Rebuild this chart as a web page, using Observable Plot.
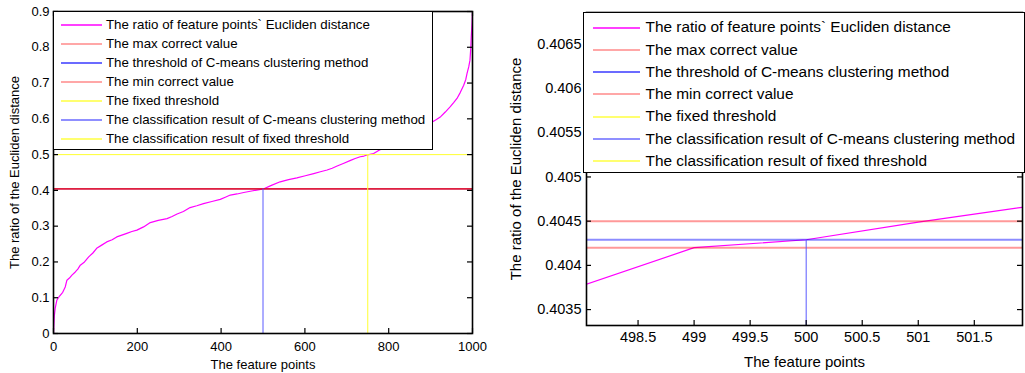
<!DOCTYPE html>
<html>
<head>
<meta charset="utf-8">
<script src="https://cdn.jsdelivr.net/npm/d3@7"></script>
<script src="https://cdn.jsdelivr.net/npm/@observablehq/plot@0.6"></script>
<style>
  body { margin: 0; background: #fff; font-family: "Liberation Sans", Arial, sans-serif; }
  #wrap { position: relative; width: 1025px; height: 373px; overflow: hidden; background: #fff; }
  .panel { position: absolute; top: 0; }
  .legend { position: absolute; background: #fff; border: 1.5px solid #000; box-sizing: border-box; }
  .legend .row { position: absolute; left: 0; white-space: nowrap; color: #000; }
  .legend svg { position: absolute; }
</style>
</head>
<body>
<div id="wrap"></div>
<script>
// ---- data ----
const featureIndex = [0,2,4,8,14,22,28,32,38,44,52,58,64,74,84,94,103,115,127,140,151,163,175,187,199,215,231,250,271,283,295,310,326,342,358,378,398,410,422,438,454,476,498,499,500,501,502,520,541,561,581,601,621,637,653,665,677,693,709,720,732,741,750,764,780,800,820,840,860,880,904,914,924,935,947,955,963,971,979,984,987,991,994,996,997,999,1000];
const ratioValues = [0,0.05,0.07,0.093,0.104,0.115,0.13,0.149,0.155,0.163,0.172,0.18,0.191,0.2,0.214,0.225,0.238,0.247,0.256,0.262,0.27,0.275,0.28,0.285,0.289,0.298,0.31,0.316,0.321,0.327,0.334,0.341,0.352,0.357,0.363,0.369,0.375,0.381,0.387,0.39,0.394,0.399,0.40377,0.4042,0.40429,0.40449,0.40467,0.414,0.424,0.43,0.435,0.441,0.447,0.452,0.457,0.462,0.468,0.476,0.484,0.489,0.494,0.496,0.4995,0.503,0.514,0.524,0.535,0.546,0.558,0.572,0.591,0.598,0.606,0.619,0.634,0.645,0.657,0.674,0.694,0.71,0.727,0.745,0.764,0.8,0.829,0.87,0.9];
const maxCorrect = [0.4045];
const minCorrect = [0.4042];
const cMeansThreshold = [0.40429];
const fixedThreshold = [0.5];
const cMeansIndex = [500];
const fixedIndex = [750];

const legendLabels = [
  "The ratio of feature points` Eucliden distance",
  "The max correct value",
  "The threshold of C-means clustering method",
  "The min correct value",
  "The fixed threshold",
  "The classification result of C-means clustering method",
  "The classification result of fixed threshold"
];
const legendColors = ["#ff00ff","#ff8a8a","#3a3aff","#ff8a8a","#ffff40","#6a6aff","#ffff40"];

const leftXTicks = [0,200,400,600,800,1000];
const leftYTicks = [0,0.1,0.2,0.3,0.4,0.5,0.6,0.7,0.8,0.9];
const leftXDomain = [0,1000];
const leftYDomain = [0,0.9];

const rightXTicks = [498.5,499,499.5,500,500.5,501,501.5];
const rightYTicks = [0.4035,0.404,0.4045,0.405,0.4055,0.406,0.4065];
const rightXDomain = [498.04,501.93];
const rightYDomain = [0.40332,0.40686];

const xLabel = "The feature points";
const yLabel = "The ratio of the Eucliden distance";

const series = featureIndex.map((x,i)=>({x, y: ratioValues[i]}));
const font = "'Liberation Sans', Arial, sans-serif";

function makePanel(o) {
  const plotW = o.width - o.ml - o.mr;
  const plotH = o.height - o.mt - o.mb;
  const yBottom = o.yDomain[0];
  return Plot.plot({
    width: o.width, height: o.height,
    marginLeft: o.ml, marginRight: o.mr, marginTop: o.mt, marginBottom: o.mb,
    style: {fontFamily: font, fontSize: o.fs + "px", color: "#000", background: "transparent", overflow: "visible"},
    x: {domain: o.xDomain},
    y: {domain: o.yDomain},
    marks: [
      Plot.line(series, {x: "x", y: "y", stroke: "#ff00ff", strokeWidth: 1.2, clip: true}),
      Plot.ruleY(maxCorrect, {stroke: o.redC, strokeWidth: o.hw, strokeOpacity: o.redO}),
      Plot.ruleY(cMeansThreshold, {stroke: o.blueC, strokeWidth: o.hw, strokeOpacity: o.blueO}),
      Plot.ruleY(minCorrect, {stroke: o.redC, strokeWidth: o.hw, strokeOpacity: o.redO}),
      Plot.ruleY(fixedThreshold, {stroke: "#ffff30", strokeWidth: 1, clip: true}),
      Plot.ruleX(cMeansIndex, {y1: yBottom, y2: cMeansThreshold[0], stroke: "#5a5aff", strokeWidth: 1, clip: true}),
      Plot.ruleX(fixedIndex, {y1: yBottom, y2: fixedThreshold[0], stroke: "#ffff30", strokeWidth: 1, clip: true}),
      // inward ticks on all four sides
      Plot.tickX(o.xTicks, {x: d => d, insetTop: plotH - 5, stroke: "#000", strokeWidth: 1.2}),
      Plot.tickX(o.xTicks, {x: d => d, insetBottom: plotH - 5, stroke: "#000", strokeWidth: 1.2}),
      Plot.tickY(o.yTicks, {y: d => d, insetRight: plotW - 5, stroke: "#000", strokeWidth: 1.2}),
      Plot.tickY(o.yTicks, {y: d => d, insetLeft: plotW - 5, stroke: "#000", strokeWidth: 1.2}),
      Plot.frame({stroke: "#000", strokeWidth: 1.6}),
      Plot.axisX(o.xTicks, {anchor: "bottom", tickSize: 0, tickPadding: o.xpad, fontSize: o.fs,
        label: null, tickFormat: d => String(d)}),
      Plot.axisY(o.yTicks, {anchor: "left", tickSize: 0, tickPadding: o.ypad, fontSize: o.fs,
        label: null, tickFormat: d => String(d)}),
      Plot.axisX({anchor: "bottom", ticks: [], tickSize: 0, fontSize: o.lfs,
        label: xLabel, labelAnchor: "center", labelArrow: "none", labelOffset: o.xlo}),
      Plot.axisY({anchor: "left", ticks: [], tickSize: 0, fontSize: o.lfs,
        label: yLabel, labelAnchor: "center", labelArrow: "none", labelOffset: o.ylo})
    ]
  });
}

function makeLegend(o) {
  const box = document.createElement("div");
  box.className = "legend";
  Object.assign(box.style, {left: o.left + "px", top: o.top + "px", width: o.width + "px", height: o.height + "px"});
  legendLabels.forEach((lab, i) => {
    const cy = o.first + i * o.step;
    const s = document.createElementNS("http://www.w3.org/2000/svg", "svg");
    s.setAttribute("width", o.lineW); s.setAttribute("height", 4);
    s.style.left = o.lineX + "px"; s.style.top = (cy - 2) + "px";
    const l = document.createElementNS("http://www.w3.org/2000/svg", "line");
    l.setAttribute("x1", 0); l.setAttribute("x2", o.lineW); l.setAttribute("y1", 2); l.setAttribute("y2", 2);
    l.setAttribute("stroke", legendColors[i]); l.setAttribute("stroke-width", 1.5);
    s.appendChild(l);
    box.appendChild(s);
    const t = document.createElement("div");
    t.className = "row";
    t.textContent = lab;
    Object.assign(t.style, {left: o.textX + "px", top: (cy - o.fs * 0.6) + "px", fontSize: o.fs + "px", lineHeight: (o.fs * 1.2) + "px"});
    box.appendChild(t);
  });
  return box;
}

const wrap = document.getElementById("wrap");

const left = makePanel({width: 490, height: 373, ml: 53, mr: 18, mt: 11, mb: 40, fs: 13, lfs: 13,
  xDomain: leftXDomain, yDomain: leftYDomain, xTicks: leftXTicks, yTicks: leftYTicks,
  xpad: 8, ypad: 4, xlo: 35, ylo: 44, redC: "#ff0000", redO: 0.8, blueC: "#3030ff", blueO: 0.5, hw: 1.2});
left.classList.add("panel"); left.style.left = "0px";
wrap.appendChild(left);

const right = makePanel({width: 525, height: 373, ml: 86, mr: 3, mt: 12, mb: 48, fs: 14.5, lfs: 15,
  xDomain: rightXDomain, yDomain: rightYDomain, xTicks: rightXTicks, yTicks: rightYTicks,
  xpad: 6, ypad: 5, xlo: 41, ylo: 76, redC: "#ff0000", redO: 0.4, blueC: "#0000ff", blueO: 0.45, hw: 2});
right.classList.add("panel"); right.style.left = "500px";
wrap.appendChild(right);

wrap.appendChild(makeLegend({left: 53, top: 11, width: 380, height: 139, first: 13, step: 19,
  lineX: 7, lineW: 41, textX: 52, fs: 13.3}));
wrap.appendChild(makeLegend({left: 583, top: 12, width: 442, height: 161, first: 14.5, step: 22.3,
  lineX: 9, lineW: 47, textX: 61.5, fs: 15.4}));
</script>
</body>
</html>
